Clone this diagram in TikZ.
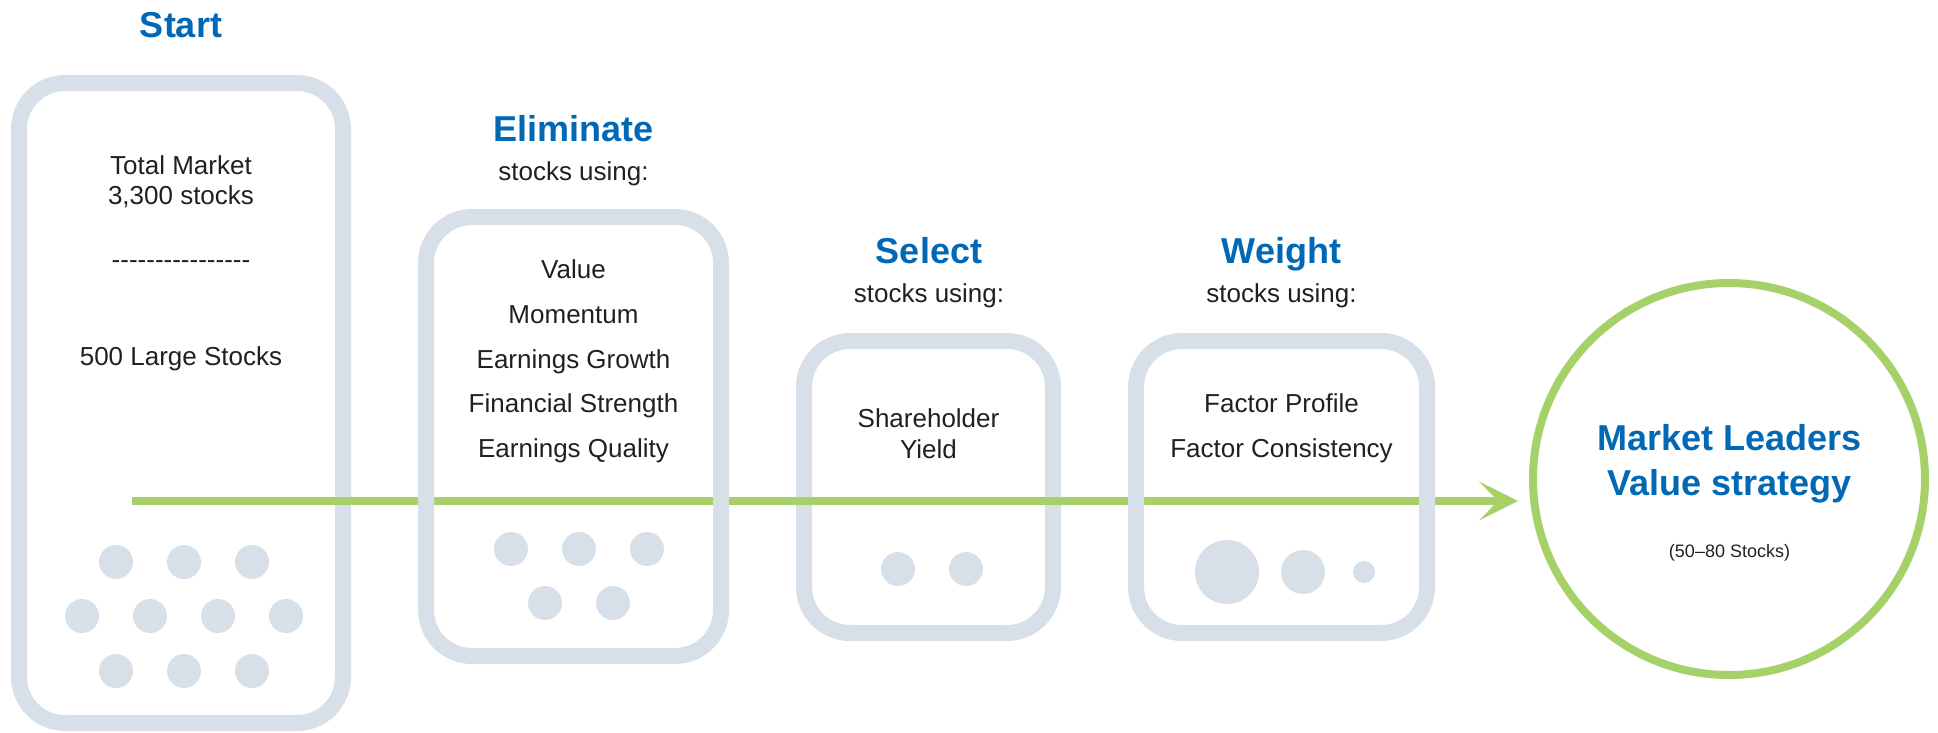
\documentclass[tikz,border=0pt]{standalone}
\usepackage{fontspec}
\setmainfont{Liberation Sans}
\usetikzlibrary{arrows.meta}
\definecolor{boxgray}{HTML}{D7E0E8}
\definecolor{lgreen}{HTML}{A6D168}
\definecolor{tblue}{HTML}{0068B4}
\definecolor{txt}{HTML}{231F20}
\newcommand\myhy{-\kern0pt}
\begin{document}
\begin{tikzpicture}[x=1pt,y=-1pt,
  stage/.style={draw=boxgray, line width=16pt, rounded corners=46pt, inner sep=0pt, rectangle},
  ttl/.style={font=\fontsize{36}{40}\selectfont\bfseries, text=tblue, anchor=base, inner sep=0pt},
  sub/.style={font=\fontsize{26}{30}\selectfont, text=txt, anchor=base, inner sep=0pt},
  small/.style={font=\fontsize{18}{22}\selectfont, text=txt, anchor=base, inner sep=0pt},
  dot/.style={circle, fill=boxgray, inner sep=0pt, minimum size=#1},
  flow/.style={draw=lgreen, line width=8pt, -{Stealth[length=39pt, width=39pt, inset=19pt]}}
]
\useasboundingbox (0,0) rectangle (1938,732);

% goal circle
\node[circle, draw=lgreen, line width=8pt, minimum size=392pt, inner sep=0pt] (goal) at (1729,479) {};

% boxes drawn below the arrow
\node[stage, minimum width=324pt, minimum height=640pt] (start) at (181,403) {};
\node[stage, minimum width=249pt, minimum height=292pt] (select) at (928.5,487) {};

% arrow
\coordinate (a0) at (132,501);
\draw[flow, shorten >=11pt] (a0) -- (a0 -| goal.west);

% boxes drawn above the arrow
\node[stage, minimum width=295pt, minimum height=439pt] (elim) at (573.5,436.5) {};
\node[stage, minimum width=291pt, minimum height=292pt] (weight) at (1281.5,487) {};

% Start texts
\node[ttl] (tStart) at (181,37) {Start};
\node[sub] (s1) at (181,174) {Total Market};
\node[sub] (s2) at (181,204) {3,300 stocks};
\node[sub] (s3) at (181,268) {\myhy\myhy\myhy\myhy\myhy\myhy\myhy\myhy\myhy\myhy\myhy\myhy\myhy\myhy\myhy-};
\node[sub] (s4) at (181,365) {500 Large Stocks};

% Eliminate texts
\node[ttl] (tElim) at (573.5,141) {Eliminate};
\node[sub] (eU) at (573.5,180) {stocks using:};
\node[sub] (e1) at (573.5,278) {Value};
\node[sub] (e2) at (573.5,323) {Momentum};
\node[sub] (e3) at (573.5,368) {Earnings Growth};
\node[sub] (e4) at (573.5,412) {Financial Strength};
\node[sub] (e5) at (573.5,457) {Earnings Quality};

% Select texts
\node[ttl] (tSel) at (929,263) {Select};
\node[sub] (sU) at (929,302) {stocks using:};
\node[sub] (sl1) at (928.5,427) {Shareholder};
\node[sub] (sl2) at (928.5,458) {Yield};

% Weight texts
\node[ttl] (tW) at (1281.5,263) {Weight};
\node[sub] (wU) at (1281.5,302) {stocks using:};
\node[sub] (w1) at (1281.5,412) {Factor Profile};
\node[sub] (w2) at (1281.5,457) {Factor Consistency};

% Goal texts
\node[ttl] (g1) at (1729.5,450) {Market Leaders};
\node[ttl] (g2) at (1729.5,495) {Value strategy};
\node[small] (g3) at (1729.5,557) {(50–80 Stocks)};

% dots: start
\foreach \x/\y [count=\i] in {116/562,184/562,252/562,82/616,150/616,218/616,286/616,116/671,184/671,252/671}
  \node[dot=34pt] (sd\i) at (\x,\y) {};
% dots: eliminate
\foreach \x/\y [count=\i] in {511/549,579/549,647/549,545/603,613/603}
  \node[dot=34pt] (ed\i) at (\x,\y) {};
% dots: select
\node[dot=34pt] (sdA) at (898,569) {};
\node[dot=34pt] (sdB) at (966,569) {};
% dots: weight
\node[dot=64pt] (wdA) at (1227,572) {};
\node[dot=44pt] (wdB) at (1303,572) {};
\node[dot=22pt] (wdC) at (1364,572) {};
\end{tikzpicture}
\end{document}
